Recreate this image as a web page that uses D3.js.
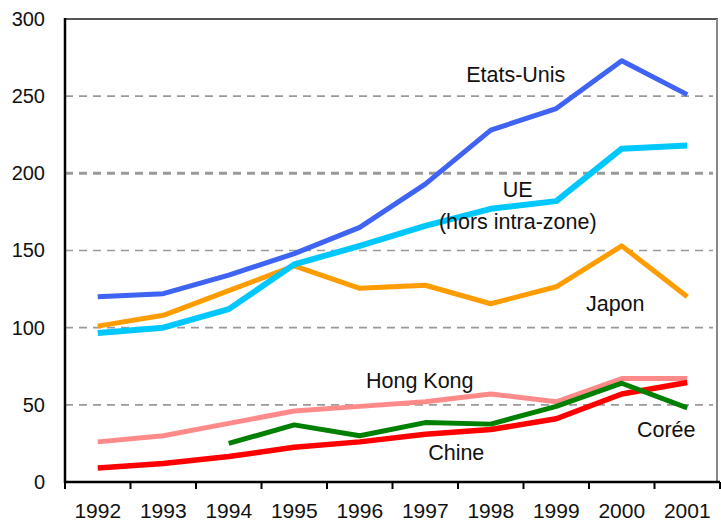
<!DOCTYPE html>
<html>
<head>
<meta charset="utf-8">
<script src="https://cdn.jsdelivr.net/npm/d3@7"></script>
<style>
html,body{margin:0;padding:0;background:#fff;}
svg{display:block;}
text{font-family:"Liberation Sans",Arial,sans-serif;fill:#111;}
</style>
</head>
<body>
<svg id="chart" width="721" height="522"></svg>
<script>
const years = ["1992","1993","1994","1995","1996","1997","1998","1999","2000","2001"];
const yTicks = [0,50,100,150,200,250,300];
const etatsUnis = [120,122,134,148,165,193,228,242,273,251];
const ue = [96.5,100,112,141,153,166,177,182,216,218];
const japon = [101,108,124,140,125.5,127.5,115.5,126.5,153,120];
const hongKong = [26,30,38,46,49,52,57,52,67,67];
const coree = [null,null,25,37,30,38.5,37.5,49,64,48];
const chine = [9,12,16.5,22.5,26,31,34,41,57,64.5];

const series = [
  {name:"Hong Kong", values:hongKong, color:"#ff8a8a", width:5},
  {name:"Chine", values:chine, color:"#ff0000", width:5.5},
  {name:"Corée", values:coree, color:"#008000", width:5},
  {name:"Japon", values:japon, color:"#ff9c00", width:5},
  {name:"UE", values:ue, color:"#00c8ff", width:6},
  {name:"Etats-Unis", values:etatsUnis, color:"#3f63f2", width:5}
];

const labels = [
  {lines:["Etats-Unis"], year:"1998", dx:25, y:82},
  {lines:["UE","(hors intra-zone)"], year:"1998", dx:27, y:197, lh:32},
  {lines:["Japon"], year:"1999", dx:59, y:311},
  {lines:["Hong Kong"], year:"1996", dx:60, y:388},
  {lines:["Corée"], year:"2001", dx:-21, y:437},
  {lines:["Chine"], year:"1997", dx:31, y:460}
];

const svg = d3.select("#chart");
const mLeft = 65, mRight = 720, mTop = 19, mBottom = 482;

const x = d3.scaleBand().domain(years).range([mLeft, mRight]).padding(0);
const y = d3.scaleLinear().domain([0,300]).range([mBottom, mTop]);
const cx = d => x(d) + x.bandwidth()/2;

// gridlines
svg.append("g").selectAll("line")
  .data(yTicks.filter(v => v > 0 && v < 300))
  .join("line")
  .attr("x1", mLeft).attr("x2", 713)
  .attr("y1", d => y(d)).attr("y2", d => y(d))
  .attr("stroke", "#9a9a9a")
  .attr("stroke-width", d => d === 200 ? 3 : 1.6)
  .attr("stroke-dasharray", "8,6");

// frame top/right
svg.append("line").attr("x1", mLeft).attr("x2", 718).attr("y1", y(300)).attr("y2", y(300))
  .attr("stroke", "#555").attr("stroke-width", 2);
svg.append("line").attr("x1", 717).attr("x2", 717).attr("y1", y(300)).attr("y2", y(0))
  .attr("stroke", "#888").attr("stroke-width", 2);

// lines
const line = d3.line()
  .defined(d => d.v !== null)
  .x(d => cx(d.year))
  .y(d => y(d.v));

svg.append("g").selectAll("path")
  .data(series)
  .join("path")
  .attr("fill", "none")
  .attr("stroke", d => d.color)
  .attr("stroke-width", d => d.width)
  .attr("stroke-linejoin", "round")
  .attr("d", d => line(d.values.map((v,i) => ({year: years[i], v}))));

// y axis
const yAxis = svg.append("g").attr("transform", `translate(${mLeft},0)`)
  .call(d3.axisLeft(y).tickValues(yTicks).tickSize(0).tickPadding(20));
yAxis.select(".domain").remove();
yAxis.selectAll("text").attr("font-size", 20).attr("font-family", "Liberation Sans, Arial, sans-serif").attr("fill", "#111");
svg.append("line").attr("x1", mLeft).attr("x2", mLeft).attr("y1", y(300) - 1).attr("y2", y(0) + 1)
  .attr("stroke", "#000").attr("stroke-width", 2.5);

// x axis
const xAxis = svg.append("g").attr("transform", `translate(0,${y(0)})`)
  .call(d3.axisBottom(x).tickSize(0).tickPadding(21));
xAxis.select(".domain").remove();
xAxis.selectAll("text").attr("font-size", 21).attr("font-family", "Liberation Sans, Arial, sans-serif").attr("fill", "#111");
svg.append("line").attr("x1", mLeft - 1).attr("x2", mRight).attr("y1", y(0)).attr("y2", y(0))
  .attr("stroke", "#000").attr("stroke-width", 2.5);
const bounds = years.map(d => x(d)).concat([x(years[years.length-1]) + x.bandwidth()]);
svg.append("g").selectAll("line").data(bounds).join("line")
  .attr("x1", d => d).attr("x2", d => d)
  .attr("y1", y(0)).attr("y2", y(0) + 7)
  .attr("stroke", "#000").attr("stroke-width", 2);

// series labels
labels.forEach(l => {
  const t = svg.append("text")
    .attr("text-anchor", "middle")
    .attr("font-size", 21.5);
  l.lines.forEach((s, i) => {
    t.append("tspan")
      .attr("x", cx(l.year) + l.dx)
      .attr("y", l.y + i * (l.lh || 0))
      .text(s);
  });
});
</script>
</body>
</html>
